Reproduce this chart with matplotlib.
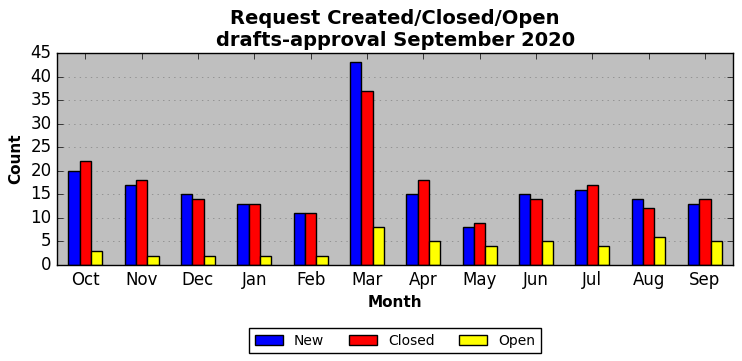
import numpy as np
import matplotlib
matplotlib.use("Agg")
import matplotlib.pyplot as plt

months = ['Oct', 'Nov', 'Dec', 'Jan', 'Feb', 'Mar', 'Apr', 'May', 'Jun', 'Jul', 'Aug', 'Sep']
new = [20, 17, 15, 13, 11, 43, 15, 8, 15, 16, 14, 13]
closed = [22, 18, 14, 13, 11, 37, 18, 9, 14, 17, 12, 14]
opened = [3, 2, 2, 2, 2, 8, 5, 4, 5, 4, 6, 5]

plt.style.use('classic')

fig, ax = plt.subplots(figsize=(7.42, 3.61), dpi=100)
x = np.arange(len(months))
w = 0.2
ax.bar(x - w, new, w, color='blue', edgecolor='black', label='New', align='center')
ax.bar(x, closed, w, color='red', edgecolor='black', label='Closed', align='center')
ax.bar(x + w, opened, w, color='yellow', edgecolor='black', label='Open', align='center')

ax.set_facecolor('#bfbfbf')
ax.set_xlim(-0.5, len(months) - 0.5)
ax.set_ylim(0, 45)
ax.set_yticks(range(0, 46, 5))
ax.set_xticks(x)
ax.set_xticklabels(months)
ax.yaxis.grid(True, linestyle=':', color='grey')
ax.set_axisbelow(True)

ax.set_title('Request Created/Closed/Open\ndrafts-approval September 2020', fontsize=14, fontweight='bold')
ax.set_xlabel('Month', fontsize=11, fontweight='bold')
ax.set_ylabel('Count', fontsize=11, fontweight='bold')
ax.legend(loc='upper center', bbox_to_anchor=(0.5, -0.265), ncol=3, fontsize=10,
          frameon=True, columnspacing=1.8)

fig.subplots_adjust(left=0.077, right=0.988, top=0.853, bottom=0.266)
fig.savefig('out.png', dpi=100)
